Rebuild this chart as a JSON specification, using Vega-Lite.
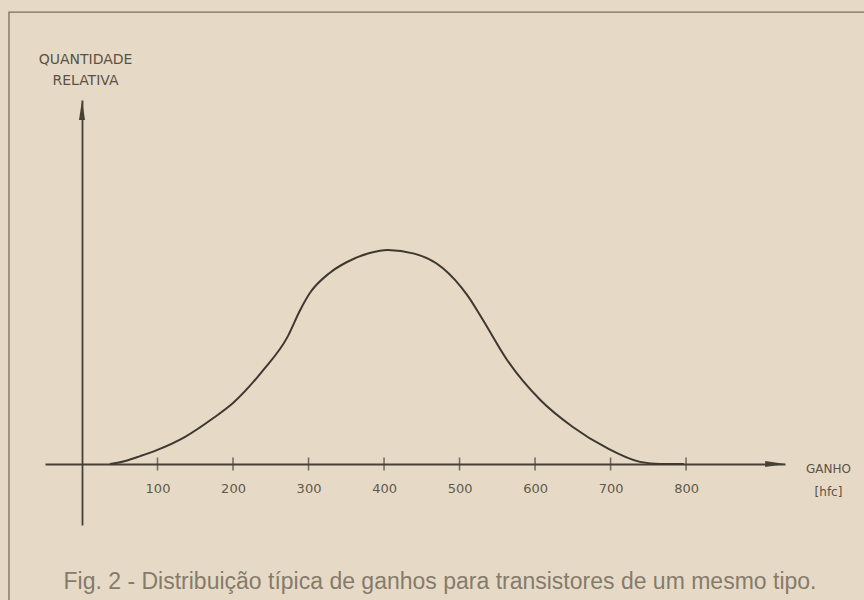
{
  "$schema": "https://vega.github.io/schema/vega-lite/v6.json",
  "autosize": {"type": "none"},
  "width": 740,
  "height": 425,
  "padding": {"left": 45, "top": 100, "right": 79, "bottom": 75},
  "background": "#e6dac7",
  "config": {"view": {"stroke": null}},
  "title": {
    "text": "Fig. 2 - Distribuição típica de ganhos para transistores de um mesmo tipo.",
    "orient": "bottom",
    "anchor": "middle",
    "frame": "group",
    "baseline": "top",
    "offset": -33,
    "dx": 25,
    "font": "Liberation Sans Narrow, Liberation Sans, Arial",
    "fontSize": 23,
    "fontWeight": "normal",
    "color": "#857b6b"
  },
  "layer": [
    {
      "data": {"values": [{}]},
      "mark": {"type": "rect", "fillOpacity": 0, "stroke": "#7a6e5d", "strokeWidth": 1.3, "clip": false},
      "encoding": {
        "x": {"datum": -96.7, "type": "quantitative", "scale": {"domain": [-49, 931], "nice": false, "zero": false}},
        "x2": {"datum": 1100},
        "y": {"datum": 2.112, "type": "quantitative", "scale": {"domain": [-0.285, 1.701], "nice": false, "zero": false}},
        "y2": {"datum": -0.6495}
      }
    },
    {
      "data": {"values": [
        {"ganho": 37, "quantidade": 0.0},
        {"ganho": 57, "quantidade": 0.014},
        {"ganho": 77, "quantidade": 0.037},
        {"ganho": 99, "quantidade": 0.065},
        {"ganho": 136, "quantidade": 0.126},
        {"ganho": 174, "quantidade": 0.215},
        {"ganho": 200, "quantidade": 0.285},
        {"ganho": 240, "quantidade": 0.439},
        {"ganho": 272, "quantidade": 0.593},
        {"ganho": 289, "quantidade": 0.72},
        {"ganho": 302, "quantidade": 0.8},
        {"ganho": 328, "quantidade": 0.893},
        {"ganho": 351, "quantidade": 0.944},
        {"ganho": 381, "quantidade": 0.986},
        {"ganho": 405, "quantidade": 1.0},
        {"ganho": 440, "quantidade": 0.983},
        {"ganho": 478, "quantidade": 0.915},
        {"ganho": 510, "quantidade": 0.79},
        {"ganho": 531, "quantidade": 0.673},
        {"ganho": 563, "quantidade": 0.486},
        {"ganho": 607, "quantidade": 0.299},
        {"ganho": 650, "quantidade": 0.173},
        {"ganho": 695, "quantidade": 0.075},
        {"ganho": 739, "quantidade": 0.01},
        {"ganho": 766, "quantidade": 0.0},
        {"ganho": 797, "quantidade": 0.0}
      ]},
      "mark": {"type": "line", "interpolate": "monotone", "stroke": "#3e3830", "strokeWidth": 2},
      "encoding": {
        "x": {
          "field": "ganho", "type": "quantitative",
          "scale": {"domain": [-49, 931], "nice": false, "zero": false},
          "axis": {
            "orient": "bottom",
            "offset": -61,
            "values": [100, 200, 300, 400, 500, 600, 700, 800],
            "ticks": false,
            "grid": false,
            "domainColor": "#474035",
            "domainWidth": 1.8,
            "labelFont": "DejaVu Sans",
            "labelFontSize": 13,
            "labelColor": "#62594a",
            "labelPadding": 18,
            "labelBaseline": "top",
            "title": ["GANHO", "[hfc]"],
            "titleFont": "DejaVu Sans",
            "titleFontSize": 12,
            "titleFontWeight": "normal",
            "titleColor": "#5a5244",
            "titleAngle": 0,
            "titleAlign": "center",
            "titleBaseline": "top",
            "titleLineHeight": 23,
            "titleX": 783,
            "titleY": -1
          }
        },
        "y": {
          "field": "quantidade", "type": "quantitative",
          "scale": {"domain": [-0.285, 1.701], "nice": false, "zero": false},
          "axis": {
            "orient": "left",
            "offset": -37,
            "ticks": false,
            "labels": false,
            "grid": false,
            "domainColor": "#474035",
            "domainWidth": 1.8,
            "title": ["QUANTIDADE", "RELATIVA"],
            "titleFont": "DejaVu Sans",
            "titleFontSize": 14,
            "titleFontWeight": "normal",
            "titleColor": "#5a5244",
            "titleAngle": 0,
            "titleAlign": "center",
            "titleBaseline": "top",
            "titleLineHeight": 21,
            "titleX": 3,
            "titleY": -48
          }
        }
      }
    },
    {
      "data": {"values": [
        {"marca": 100}, {"marca": 200}, {"marca": 300}, {"marca": 400},
        {"marca": 500}, {"marca": 600}, {"marca": 700}, {"marca": 800}
      ]},
      "mark": {"type": "tick", "orient": "vertical", "size": 13, "thickness": 1.6, "color": "#474035"},
      "encoding": {
        "x": {"field": "marca", "type": "quantitative"},
        "y": {"datum": 0, "type": "quantitative"}
      }
    },
    {
      "data": {"values": [{}]},
      "mark": {"type": "point", "shape": "M1,0 L-1,-0.3 L-1,0.3 Z", "filled": true, "size": 400, "color": "#474035", "opacity": 1},
      "encoding": {
        "x": {"datum": 918, "type": "quantitative"},
        "y": {"datum": 0, "type": "quantitative"}
      }
    },
    {
      "data": {"values": [{}]},
      "mark": {"type": "point", "shape": "M0,-1 L0.3,1 L-0.3,1 Z", "filled": true, "size": 400, "color": "#474035", "opacity": 1},
      "encoding": {
        "x": {"datum": 0, "type": "quantitative"},
        "y": {"datum": 1.654, "type": "quantitative"}
      }
    }
  ]
}
